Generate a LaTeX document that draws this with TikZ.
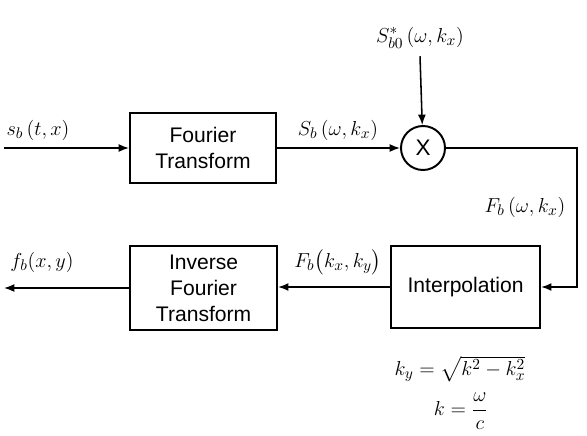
\documentclass[tikz,border=0pt]{standalone}
\usepackage[no-math]{fontspec}
\setmainfont{Liberation Sans}
\usepackage{amsmath,amssymb}
\usepackage{tikz}
\usetikzlibrary{arrows.meta,positioning,calc}

\begin{document}
\begin{tikzpicture}[
    box/.style={rectangle, draw=black, line width=1.4pt, fill=white,
        font=\fontsize{15}{18.5}\selectfont, align=center, inner sep=2pt},
    mulnode/.style={circle, draw=black, line width=1.4pt, minimum size=1.1cm,
        font=\fontsize{16}{18}\selectfont, inner sep=0pt},
    lbl/.style={font=\fontsize{15}{17}\selectfont, inner sep=1pt},
    arr/.style={-{Latex[length=2.6mm,width=2mm]}, line width=1.1pt}
]
    \useasboundingbox (0,0) rectangle (14.675,10.875);

    \node[box, minimum width=3.65cm, minimum height=1.75cm] (ft) at (5.075,7.175) {Fourier\\Transform};
    \node[mulnode] (mult) at (10.575,7.175) {X};
    \node[box, minimum width=3.725cm, minimum height=2.05cm] (interp) at (11.64,3.7) {Interpolation};
    \node[box, minimum width=3.675cm, minimum height=2.1cm] (ift) at (5.09,3.675) {Inverse\\Fourier\\Transform};

    \coordinate (in) at (0.1,7.175);
    \coordinate (turn) at (14.425,7.175);
    \coordinate (out) at (0.1,3.675);

    \draw[arr] (in) -- (ft);
    \draw[arr] (ft) -- (mult);
    \draw[arr] (mult) -- (turn) |- (interp);
    \draw[arr] (interp) -- (interp -| ift.east);
    \draw[arr] (ift) -- (out);

    % Annotations
    \node[lbl] (conj) at (10.5,9.925) {$S_{b0}^{*}\left(\omega,k_x\right)$};
    \draw[arr] ([yshift=-4pt]conj.south) -- (mult);
    \node[lbl] (sin) at (0.95,7.625) {$s_b\left(t,x\right)$};
    \node[lbl] (sft) at (8.45,7.625) {$S_b\left(\omega,k_x\right)$};
    \node[lbl] (fmul) at (13.125,5.7) {$F_b\left(\omega,k_x\right)$};
    \node[lbl] (fint) at (8.45,4.325) {$F_b\bigl(k_x,k_y\bigr)$};
    \node[lbl] (fout) at (1.05,4.325) {$f_b(x,y)$};
    \node[lbl] (eqky) at (11.5,1.65) {$k_y=\sqrt{k^2-k_x^2}$};
    \node[lbl] (eqk) at (11.525,0.6) {$k=\dfrac{\omega}{c}$};
\end{tikzpicture}
\end{document}
